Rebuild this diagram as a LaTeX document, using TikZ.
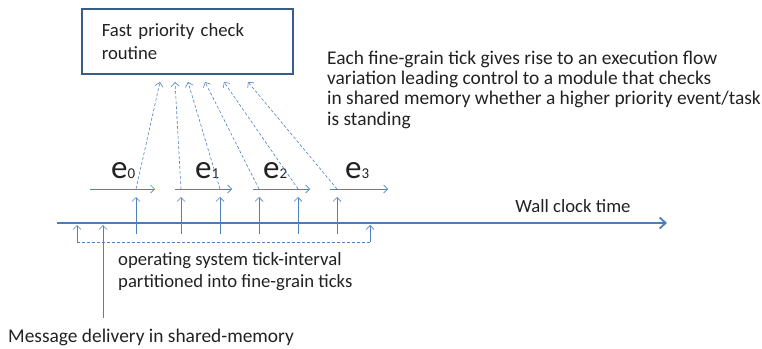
\documentclass[tikz,border=0pt]{standalone}
\usepackage{fontspec}
\setmainfont{Carlito}
\usetikzlibrary{arrows.meta}
\definecolor{lineblue}{HTML}{4F81BD}
\definecolor{axisblue}{HTML}{4A7EBB}
\definecolor{boxblue}{HTML}{385D8A}
\definecolor{txt}{HTML}{222222}

\begin{document}
\begin{tikzpicture}[x=1pt, y=-1pt,
    every node/.style={font=\fontsize{18.7}{20.3}\selectfont, text=txt, inner sep=0pt},
    tick/.style={-{Straight Barb[length=4pt,width=8pt]}, lineblue, line width=0.7pt},
    flow/.style={tick, dash pattern=on 3pt off 2pt, line width=0.6pt},
    evt/.style={font=\fontsize{33}{33}\selectfont, anchor=base west}]
    \useasboundingbox (0,0) rectangle (762,348);
    % routine box
    \node[draw=boxblue, line width=1.6pt, minimum width=211pt, minimum height=65pt,
          text width=171pt, align=left, anchor=north west,
          font=\fontsize{18.7}{23}\selectfont] (fpc) at (81,8) {Fast priority check\\routine};
    \node[anchor=base west, align=left, font=\fontsize{19.4}{20.3}\selectfont] (note) at (327,125)
        {Each fine-grain tick gives rise to an execution flow\\
         variation leading control to a module that checks\\
         in shared memory whether a higher priority event/task\\
         is standing};
    % wall clock
    \coordinate (t0) at (57,223);
    \coordinate (t1) at (667,223);
    \draw[axisblue, line width=1.8pt, -{Straight Barb[length=6pt,width=11pt]}] (t0) -- (t1);
    \node[anchor=base] (wall) at (573,212) {Wall clock time};
    % events
    \foreach \a/\b/\l [count=\n from 0] in {90/155/111, 175/232/195, 253/310/263, 330/388/345}{
        \coordinate (ea\n) at (\a,189);
        \coordinate (eb\n) at (\b,189);
        \draw[tick] (ea\n) -- (eb\n);
        \node[evt] (e\n) at (\l,178) {e{\fontsize{15}{15}\selectfont\n}};
    }
    % fine-grain ticks
    \foreach \x/\t [count=\i] in {136/160, 181/175, 220/188, 259/205, 298/224, 337/248}{
        \coordinate (u\i) at (\x,234);
        \coordinate (v\i) at (\x,197);
        \coordinate (w\i) at (\x,189);
        \coordinate (h\i) at (\t,82);
        \draw[tick] (u\i) -- (v\i);
        \draw[flow] (w\i) -- (h\i);
    }
    % tick interval
    \coordinate (bl) at (77,242);
    \coordinate (br) at (370,242);
    \draw[tick, shorten >=2pt] (bl) -- (bl |- t0);
    \draw[tick, shorten >=2pt] (br) -- (br |- t0);
    \draw[lineblue, line width=0.7pt, dash pattern=on 3pt off 2pt] (bl) -- (br);
    \node[anchor=base west, align=left, font=\fontsize{18.7}{22}\selectfont] (os) at (118,287)
        {operating system tick-interval\\partitioned into fine-grain ticks};
    % message delivery
    \coordinate (m0) at (103,318);
    \draw[tick, shorten >=2pt] (m0) -- (m0 |- t0);
    \node[anchor=base west, font=\fontsize{19.4}{20.3}\selectfont] (msg) at (8,342) {Message delivery in shared-memory};
\end{tikzpicture}
\end{document}
